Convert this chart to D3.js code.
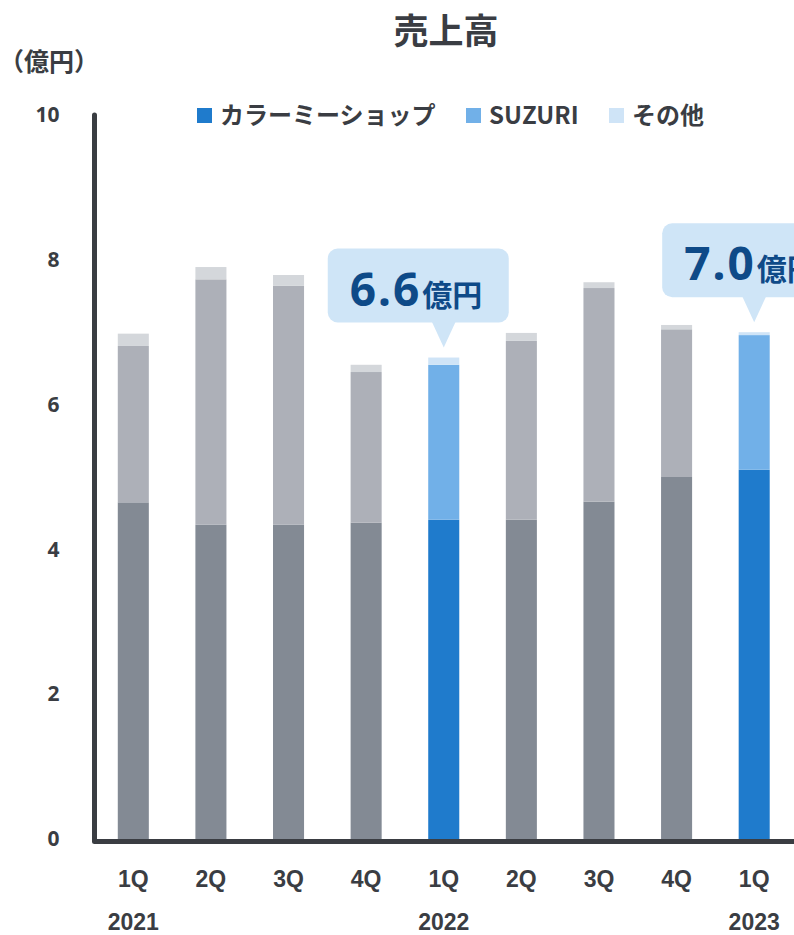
<!DOCTYPE html>
<html>
<head>
<meta charset="utf-8">
<script src="https://cdn.jsdelivr.net/npm/d3@7"></script>
<style>
  html, body { margin: 0; padding: 0; background: #fff; }
  svg { display: block; font-family: "Noto Sans CJK JP", "Noto Sans", sans-serif; }
</style>
</head>
<body>
<svg id="chart" width="794" height="935"></svg>
<script>
// ---- data ----
const quarters = ["1Q", "2Q", "3Q", "4Q", "1Q", "2Q", "3Q", "4Q", "1Q"];
const years = ["2021", "", "", "", "2022", "", "", "", "2023"];
const colorMeShop = [4.65, 4.34, 4.34, 4.37, 4.41, 4.41, 4.66, 5.00, 5.10];
const suzuri = [2.16, 3.39, 3.30, 2.08, 2.14, 2.47, 2.95, 2.04, 1.86];
const others = [0.17, 0.17, 0.15, 0.10, 0.10, 0.11, 0.08, 0.06, 0.04];
const highlighted = [false, false, false, false, true, false, false, false, true];
const seriesNames = ["カラーミーショップ", "SUZURI", "その他"];
const yTicks = [0, 2, 4, 6, 8, 10];
const calloutIndex = [4, 8];
const calloutValue = ["6.6", "7.0"];
const calloutUnit = "億円";
const title = "売上高";
const unitLabel = "（億円）";

// ---- styles ----
const highlightColors = ["#1f7bcc", "#71b0e8", "#cfe4f7"];
const grayColors = ["#838a94", "#adb0b8", "#d4d7db"];
const textColor = "#3a3d43";

const svg = d3.select("#chart");

const rows = quarters.map((q, i) => ({ i, s0: colorMeShop[i], s1: suzuri[i], s2: others[i] }));
const keys = ["s0", "s1", "s2"];
const stacked = d3.stack().keys(keys)(rows);

const axisX = 94.5;
const x = d3.scaleBand()
  .domain(quarters.map((_, i) => i))
  .range([axisX, 793])
  .paddingInner(0.6)
  .paddingOuter(0.3);

const y = d3.scaleLinear().domain([0, 10]).range([839, 115]);

// bars
const layer = svg.append("g");
stacked.forEach((ser, k) => {
  layer.selectAll(null)
    .data(ser)
    .join("rect")
    .attr("x", d => x(d.data.i))
    .attr("width", x.bandwidth())
    .attr("y", d => y(d[1]))
    .attr("height", d => y(d[0]) - y(d[1]))
    .attr("fill", d => highlighted[d.data.i] ? highlightColors[k] : grayColors[k]);
});

// axis lines
svg.append("path")
  .attr("d", `M${axisX},${y(10)} V${y(0) + 2.5} H810`)
  .attr("fill", "none")
  .attr("stroke", "#3a3d42")
  .attr("stroke-width", 5)
  .attr("stroke-linecap", "round")
  .attr("stroke-linejoin", "round");

// y axis labels
const yAxis = svg.append("g")
  .attr("transform", `translate(${axisX},0)`)
  .call(d3.axisLeft(y).tickValues(yTicks).tickSize(0).tickPadding(35).tickFormat(d3.format("d")));
yAxis.select(".domain").remove();
yAxis.selectAll("text")
  .attr("fill", textColor)
  .attr("font-size", 21)
  .attr("font-weight", 700)
  .attr("font-family", "'Noto Sans', sans-serif");

// x axis: quarters
const xAxis = svg.append("g")
  .attr("transform", `translate(0,${y(0)})`)
  .call(d3.axisBottom(x).tickSize(0).tickPadding(32).tickFormat(i => quarters[i]));
xAxis.select(".domain").remove();
xAxis.selectAll("text")
  .attr("fill", textColor)
  .attr("font-size", 23)
  .attr("font-weight", 700);

// x axis: years
const yearAxis = svg.append("g")
  .attr("transform", `translate(0,${y(0)})`)
  .call(d3.axisBottom(x).tickSize(0).tickPadding(75).tickFormat(i => years[i]));
yearAxis.select(".domain").remove();
yearAxis.selectAll("text")
  .attr("fill", textColor)
  .attr("font-size", 23)
  .attr("font-weight", 700);

// title
svg.append("text")
  .attr("x", 446).attr("y", 44)
  .attr("text-anchor", "middle")
  .attr("font-size", 35)
  .attr("font-weight", 700)
  .attr("fill", textColor)
  .text(title);

// unit label
svg.append("text")
  .attr("x", -1).attr("y", 71)
  .attr("font-size", 25)
  .attr("font-weight", 700)
  .attr("fill", textColor)
  .text(unitLabel);

// legend
const legendX = [197, 466, 609];
const legend = svg.append("g");
seriesNames.forEach((name, k) => {
  const g = legend.append("g").attr("transform", `translate(${legendX[k]},108)`);
  g.append("rect").attr("width", 15).attr("height", 15).attr("fill", highlightColors[k]);
  g.append("text")
    .attr("x", 23).attr("y", 16)
    .attr("font-size", 24)
    .attr("font-weight", 700)
    .attr("fill", textColor)
    .text(name);
});

// callouts
const boxOffset = [-116, -92];
const boxW = 181, boxH = 74, tipGap = 10, tipLen = 25, tipHalf = 12;
calloutIndex.forEach((idx, j) => {
  const total = colorMeShop[idx] + suzuri[idx] + others[idx];
  const cx = x(idx) + x.bandwidth() / 2;
  const tipY = y(total) - tipGap;
  const bottom = tipY - tipLen;
  const top = bottom - boxH;
  const left = cx + boxOffset[j];
  const g = svg.append("g");
  g.append("rect")
    .attr("x", left).attr("y", top)
    .attr("width", boxW).attr("height", boxH)
    .attr("rx", 10)
    .attr("fill", "#cfe5f7");
  g.append("path")
    .attr("d", `M${cx - tipHalf},${bottom - 1} L${cx},${tipY} L${cx + tipHalf},${bottom - 1} Z`)
    .attr("fill", "#cfe5f7");
  const t = g.append("text")
    .attr("x", left + 22).attr("y", top + 57)
    .attr("fill", "#0e4a88")
    .attr("font-weight", 700);
  t.append("tspan")
    .attr("font-size", 46)
    .attr("font-family", "'Noto Sans', sans-serif")
    .attr("letter-spacing", 2)
    .text(calloutValue[j]);
  t.append("tspan")
    .attr("font-size", 30)
    .attr("dx", 1)
    .text(calloutUnit);
});
</script>
</body>
</html>
